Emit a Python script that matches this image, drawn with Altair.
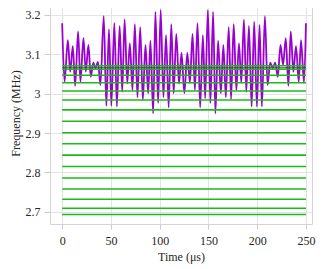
import altair as alt
import pandas as pd

# Purple signal: turning points (time in µs, frequency in MHz)
time_us = [0.0, 2.4, 5.8, 8.2, 10.9, 13.3, 16.3, 18.7, 21.8, 24.2, 26.9, 29.3, 32.0, 34.0,
           36.7, 39.2, 42.6, 45.3, 48.0, 50.4, 53.5, 56.1, 58.9, 61.6, 64.0, 66.7, 69.4,
           72.1, 74.5, 77.2, 80.0, 82.7, 85.4, 88.2, 90.5, 93.3, 95.6, 98.4, 101.0, 103.8,
           106.5, 109.2, 111.9, 114.3, 117.0, 119.8, 122.4, 125.3, 128.3, 131.0, 133.7,
           136.1, 138.8, 141.5, 144.3, 146.6, 149.4, 152.0, 154.8, 157.1, 159.9, 162.7,
           165.3, 167.8, 170.8, 173.2, 175.9, 178.6, 181.3, 183.7, 186.4, 188.8, 191.5,
           194.3, 196.9, 199.7, 202.4, 204.8, 207.9, 210.6, 213.3, 216.0, 218.4, 221.1,
           223.9, 226.5, 229.3, 232.0, 234.4, 237.1, 239.8, 242.6, 244.9, 248.0, 250.0]
freq_mhz = [3.179, 3.030, 3.136, 3.056, 3.121, 3.020, 3.158, 3.030, 3.141, 3.056, 3.124,
            3.043, 3.079, 3.065, 3.081, 3.022, 3.197, 2.969, 3.164, 2.969, 3.180, 2.967,
            3.172, 3.005, 3.189, 3.026, 3.128, 3.009, 3.177, 2.991, 3.169, 2.984, 3.124,
            3.001, 3.135, 2.950, 3.208, 2.976, 3.213, 2.991, 3.149, 2.965, 3.177, 3.001,
            3.152, 3.026, 3.104, 3.001, 3.104, 3.028, 3.152, 3.009, 3.179, 2.965, 3.149,
            2.988, 3.213, 2.976, 3.208, 2.950, 3.135, 3.001, 3.124, 2.991, 3.169, 2.986,
            3.177, 3.009, 3.128, 3.028, 3.188, 3.005, 3.172, 2.967, 3.183, 2.967, 3.175,
            2.967, 3.197, 3.022, 3.079, 3.065, 3.079, 3.043, 3.124, 3.073, 3.141, 3.020,
            3.158, 3.056, 3.121, 3.030, 3.136, 3.028, 3.179]

# Green horizontal levels (MHz)
level_mhz = [3.071, 3.062, 3.047, 3.028, 3.007, 2.984, 2.959, 2.930, 2.901, 2.873,
             2.844, 2.815, 2.786, 2.758, 2.732, 2.709, 2.693]
center_mhz = [3.066]
level_start = [0]
level_end = [250]

x_ticks = [0, 50, 100, 150, 200, 250]
y_ticks = [2.7, 2.8, 2.9, 3.0, 3.1, 3.2]

sig = pd.DataFrame({"t": time_us, "f": freq_mhz})
lev = pd.DataFrame({"f": level_mhz, "t0": level_start * len(level_mhz),
                    "t1": level_end * len(level_mhz)})
cen = pd.DataFrame({"f": center_mhz, "t0": level_start, "t1": level_end})

FONT = "Liberation Serif"
TXT = "#262626"
FS = 12
xscale = alt.Scale(domain=[-12.5, 256.2], nice=False, zero=False)
yscale = alt.Scale(domain=[2.669, 3.233], nice=False, zero=False)

xaxis = alt.Axis(values=x_ticks, title="Time (μs)", grid=True, gridColor="#e3e3e3",
                 domain=False, tickColor="#cccccc", tickSize=5, labelPadding=6,
                 labelFont=FONT, labelFontSize=FS, labelColor=TXT,
                 titleFont=FONT, titleFontSize=FS, titleFontWeight="normal",
                 titleColor=TXT, titlePadding=5)
yaxis = alt.Axis(values=y_ticks, title="Frequency (MHz)", format=".2~f", grid=True,
                 gridColor="#e3e3e3", domain=False, tickColor="#cccccc", tickSize=6,
                 labelPadding=4, labelFont=FONT, labelFontSize=FS, labelColor=TXT,
                 titleFont=FONT, titleFontSize=FS, titleFontWeight="normal",
                 titleColor=TXT, titlePadding=3)

line = alt.Chart(sig).mark_line(color="#9a00cf", strokeWidth=1.8,
                                interpolate="monotone").encode(
    x=alt.X("t:Q", scale=xscale, axis=xaxis),
    y=alt.Y("f:Q", scale=yscale, axis=yaxis),
)

levels = alt.Chart(lev).mark_rule(color="#18bb18", strokeWidth=1.6).encode(
    x=alt.X("t0:Q", scale=xscale),
    x2="t1:Q",
    y=alt.Y("f:Q", scale=yscale),
)

center = alt.Chart(cen).mark_rule(color="#4a4a4a", strokeWidth=1).encode(
    x=alt.X("t0:Q", scale=xscale),
    x2="t1:Q",
    y=alt.Y("f:Q", scale=yscale),
)

chart = (line + levels + center).properties(
    width=262, height=222,
    autosize="none",
    padding={"left": 42, "top": -6, "right": 4, "bottom": 45},
    background="white",
).configure(font=FONT).configure_view(stroke="#d4d4d4", strokeWidth=1)

chart.save("out.html", embed_options={"renderer": "svg", "actions": False})
